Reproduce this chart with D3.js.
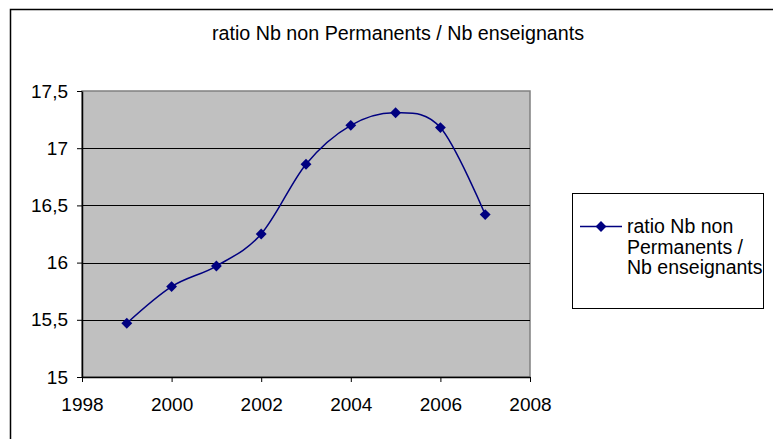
<!DOCTYPE html>
<html>
<head>
<meta charset="utf-8">
<style>
    body { margin: 0; background: #fff; }
    svg { display: block; font-family: "Liberation Sans", Arial, sans-serif; }
    .axis .domain { stroke: #000; }
    .axis .tick line { stroke: #000; }
    .axis .tick text { font-size: 19px; fill: #000; }
</style>
</head>
<body>
<svg width="773" height="439"></svg>

<script src="https://cdnjs.cloudflare.com/ajax/libs/d3/7.8.5/d3.min.js"></script>
<script>
// data
let years = [1999, 2000, 2001, 2002, 2003, 2004, 2005, 2006, 2007]
let ratio = [15.47, 15.79, 15.97, 16.25, 16.86, 17.20, 17.31, 17.18, 16.42]
let yTicks = [15, 15.5, 16, 16.5, 17, 17.5]
let xTicks = [1998, 2000, 2002, 2004, 2006, 2008]
let title = "ratio Nb non Permanents / Nb enseignants"
let legendLines = ["ratio Nb non", "Permanents /", "Nb enseignants"]

let svg = d3.select("svg")
let plot = { left: 82, right: 530, top: 91, bottom: 377 }
let lineColor = "#000080"

// outer frame (runs off the right/bottom of the picture)
svg.append("rect")
    .attr("x", 10.5).attr("y", 9.5)
    .attr("width", 800).attr("height", 500)
    .attr("fill", "#fff")
    .attr("stroke", "#000")
    .attr("stroke-width", 1.5)

svg.append("text")
    .attr("x", 398)
    .attr("y", 40)
    .attr("text-anchor", "middle")
    .style("font-size", "19.7px")
    .text(title)

let x = d3.scaleLinear().domain([1998, 2008]).range([plot.left, plot.right])
let y = d3.scaleLinear().domain([15, 17.5]).range([plot.bottom, plot.top])

// grey plot area
svg.append("rect")
    .attr("x", plot.left).attr("y", plot.top)
    .attr("width", plot.right - plot.left)
    .attr("height", plot.bottom - plot.top)
    .attr("fill", "#c0c0c0")
    .attr("stroke", "#808080")
    .attr("stroke-width", 1.5)

// gridlines
svg.append("g")
    .selectAll("line")
    .data(yTicks.slice(1, -1))
    .join("line")
    .attr("x1", plot.left).attr("x2", plot.right)
    .attr("y1", d => Math.round(y(d)) + 0.5)
    .attr("y2", d => Math.round(y(d)) + 0.5)
    .attr("stroke", "#000")
    .attr("stroke-width", 1)

let yAxis = d3.axisLeft(y)
    .tickValues(yTicks)
    .tickSize(5)
    .tickSizeOuter(0)
    .tickPadding(9)
    .tickFormat(d => String(d).replace(".", ","))

let xAxis = d3.axisBottom(x)
    .tickValues(xTicks)
    .tickSize(5)
    .tickSizeOuter(0)
    .tickPadding(16)
    .tickFormat(d3.format("d"))

svg.append("g")
    .attr("class", "axis")
    .attr("transform", `translate(${plot.left},0)`)
    .call(yAxis)

svg.append("g")
    .attr("class", "axis")
    .attr("transform", `translate(0,${plot.bottom})`)
    .call(xAxis)

svg.selectAll(".axis .domain").attr("stroke-width", 1.5)

// smoothed line
let line = d3.line()
    .x((d, i) => x(years[i]))
    .y(d => y(d))
    .curve(d3.curveCatmullRom.alpha(0))

svg.append("path")
    .datum(ratio)
    .attr("d", line)
    .attr("fill", "none")
    .attr("stroke", lineColor)
    .attr("stroke-width", 1.5)

let diamond = d3.symbol().type(d3.symbolDiamond2).size(75)

svg.append("g")
    .selectAll("path")
    .data(ratio)
    .join("path")
    .attr("d", diamond)
    .attr("transform", (d, i) => `translate(${x(years[i])},${y(d)})`)
    .attr("fill", lineColor)

// legend
let legend = svg.append("g")
legend.append("rect")
    .attr("x", 572.5).attr("y", 193.5)
    .attr("width", 191).attr("height", 115)
    .attr("fill", "#fff")
    .attr("stroke", "#000")
legend.append("line")
    .attr("x1", 580).attr("x2", 622)
    .attr("y1", 226.5).attr("y2", 226.5)
    .attr("stroke", lineColor)
    .attr("stroke-width", 1.5)
legend.append("path")
    .attr("d", diamond)
    .attr("transform", "translate(601,226.5)")
    .attr("fill", lineColor)
legend.selectAll("text")
    .data(legendLines)
    .join("text")
    .attr("x", 627)
    .attr("y", (d, i) => 233 + i * 20.7)
    .style("font-size", "19.5px")
    .text(d => d)
</script>
</body>
</html>
